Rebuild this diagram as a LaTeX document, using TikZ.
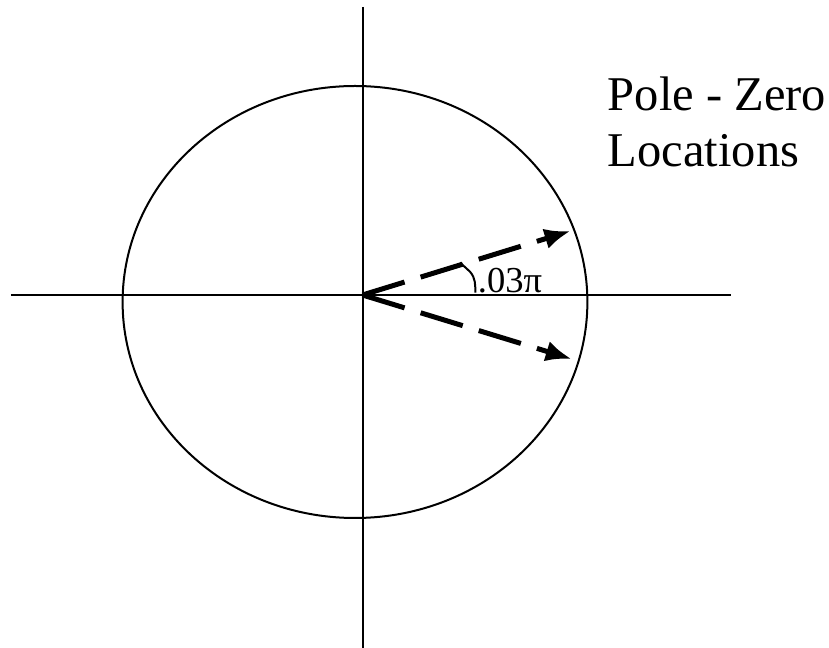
\documentclass[tikz,border=0pt]{standalone}
\usepackage{fontspec}
\setmainfont{Liberation Serif}
\usetikzlibrary{arrows.meta}

\begin{document}
\begin{tikzpicture}[line width=0.05cm,
    vec/.style={line width=0.125cm,dash pattern=on 1.1cm off 0.42cm,
      -{Latex[length=0.65cm,width=0.52cm]}}]
    \useasboundingbox (-9.0625,-8.825) rectangle (11.6625,7.375);

    \coordinate (O) at (0,0);
    \coordinate (xl) at (-8.79,0);
    \coordinate (xr) at (9.21,0);
    \coordinate (yt) at (0,7.2);
    \coordinate (yb) at (0,-8.825);
    \coordinate (P1) at (5.2,1.6);
    \coordinate (P2) at (5.23,-1.6);

    \draw (xl) -- (xr);
    \draw (yt) -- (yb);
    \draw (-0.1875,-0.175) ellipse [x radius=5.81,y radius=5.4];

    \draw[vec] (O) -- (P1);
    \draw[vec] (O) -- (P2);

    % angle mark
    \coordinate (A1) at (2.44,0.81);
    \coordinate (A2) at (2.69,0.58);
    \coordinate (A3) at (2.82,0.06);
    \draw (A1) -- (A2) to[out=-50,in=90] (A3);
    \node[anchor=base west,inner sep=0pt,font=\fontsize{26}{30}\selectfont]
      (ang) at (2.86,0.05) {.03π};

    \node[anchor=base west,inner sep=0pt,font=\fontsize{34.5}{40}\selectfont]
      (pz) at (6.11,4.6) {Pole - Zero};
    \node[anchor=base west,inner sep=0pt,font=\fontsize{34.5}{40}\selectfont]
      (loc) at (6.11,3.2) {Locations};
\end{tikzpicture}
\end{document}
